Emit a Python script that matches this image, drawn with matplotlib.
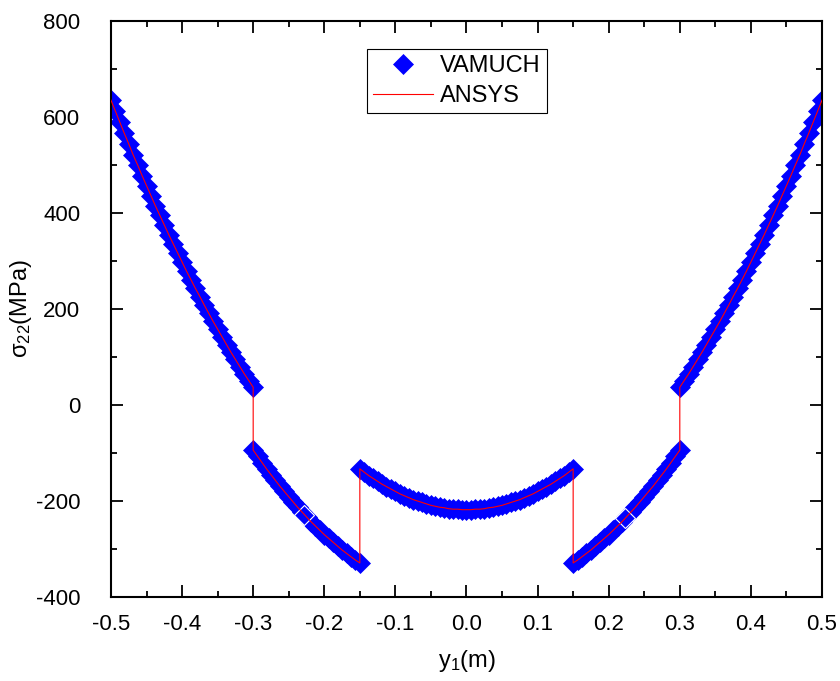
import numpy as np
import matplotlib.pyplot as plt
from matplotlib.ticker import MultipleLocator

plt.rcParams['font.family'] = ['Liberation Sans', 'DejaVu Sans']
plt.rcParams['mathtext.fontset'] = 'custom'
plt.rcParams['mathtext.rm'] = 'Liberation Sans'
plt.rcParams['mathtext.it'] = 'Liberation Sans:italic'
plt.rcParams['axes.unicode_minus'] = False

# sigma_22 along y1, one list per layer (MPa)
y_outer_left = [635, 612, 589, 566, 544, 521, 500, 478, 457, 436, 415, 395, 375, 355, 336, 317,
                298, 279, 261, 243, 226, 208, 191, 174, 158, 142, 126, 110, 95, 80, 65, 51, 37]
y_inner_left = [-94, -107, -120, -133, -145, -157, -169, -180, -191, -202, -213, -223, -233,
                -243, -252, -261, -270, -278, -286, -294, -302, -309, -316, -323, -329]
y_core = [-133, -140, -147, -153, -159, -165, -170, -175, -180, -185, -189, -193, -197, -200,
          -203, -206, -209, -211, -213, -214, -216, -217, -217, -218, -218, -218, -217, -217,
          -216, -214, -213, -211, -209, -206, -203, -200, -197, -193, -189, -185, -180, -175,
          -170, -165, -159, -153, -147, -140, -133]
y_inner_right = [-329, -323, -316, -309, -302, -294, -286, -278, -270, -261, -252, -243, -233,
                 -223, -213, -202, -191, -180, -169, -157, -145, -133, -120, -107, -94]
y_outer_right = [37, 51, 65, 80, 95, 110, 126, 142, 158, 174, 191, 208, 226, 243, 261, 279,
                 298, 317, 336, 355, 375, 395, 415, 436, 457, 478, 500, 521, 544, 566, 589, 612, 635]

# layer interfaces on y1 (m)
bounds = [-0.5, -0.3, -0.15, 0.15, 0.3, 0.5]

# two VAMUCH points drawn with a white outline
marked_x = [-0.228, 0.223]
marked_y = [-230, -235]

layers = [y_outer_left, y_inner_left, y_core, y_inner_right, y_outer_right]
x = np.concatenate([np.linspace(bounds[i], bounds[i + 1], len(layers[i])) for i in range(5)])
y = np.concatenate(layers)

fig = plt.figure(figsize=(8.4, 6.81), dpi=100)
ax = fig.add_axes([0.1321, 0.1233, 0.8465, 0.8459])

ax.plot(x, y, ls='none', marker='D', ms=10, color='#0000ff', mec='#0000ff', mew=0.5,
        label='VAMUCH', zorder=2)
ax.plot(marked_x, marked_y, ls='none', marker='D', ms=10, color='#0000ff', mec='white',
        mew=0.8, zorder=2.5)
ax.plot(x, y, color='red', lw=0.8, label='ANSYS', zorder=3)

ax.set_xlim(-0.5, 0.5)
ax.set_ylim(-400, 800)
ax.xaxis.set_major_locator(MultipleLocator(0.1))
ax.xaxis.set_minor_locator(MultipleLocator(0.05))
ax.yaxis.set_major_locator(MultipleLocator(200))
ax.yaxis.set_minor_locator(MultipleLocator(100))
ax.set_xticklabels([f'{v:.1f}' for v in ax.get_xticks()])
ax.tick_params(which='both', direction='in', top=True, right=True, width=1.3, labelsize=16)
ax.tick_params(which='major', length=8.5)
ax.tick_params(axis='x', which='major', pad=12)
ax.tick_params(axis='y', which='major', pad=22)
ax.tick_params(which='minor', length=4.5)
for s in ax.spines.values():
    s.set_linewidth(1.5)

ax.set_xlabel('y$_{1}$(m)', fontsize=17)
ax.set_ylabel('σ$_{22}$(MPa)', fontsize=17)
ax.xaxis.set_label_coords(0.5, -0.088)
ax.yaxis.set_label_coords(-0.108, 0.5)

leg = ax.legend(loc='upper left', bbox_to_anchor=(0.36, 0.951), borderaxespad=0,
                fontsize=17, fancybox=False, framealpha=1, edgecolor='black',
                handlelength=2.55, handletextpad=0.3, labelspacing=0.35, numpoints=1,
                borderpad=0.25)
leg.get_frame().set_linewidth(0.8)

plt.savefig('out.png', dpi=100)
